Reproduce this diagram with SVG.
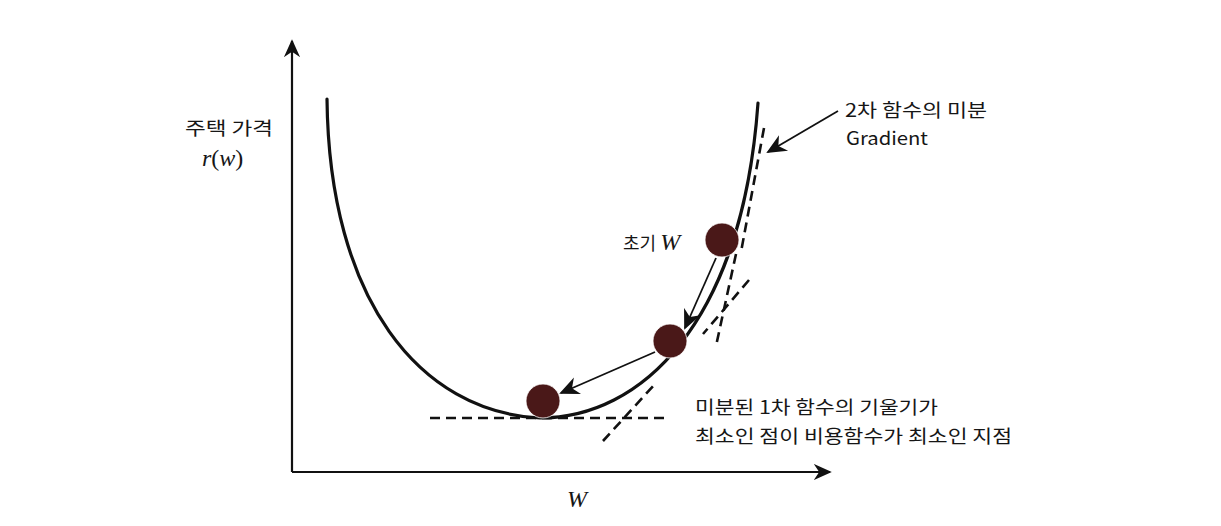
<svg xmlns="http://www.w3.org/2000/svg" width="1221" height="526" viewBox="0 0 1221 526">
<style>
.ax{stroke:#111;stroke-width:2.2;fill:none}
.curve{stroke:#111;stroke-width:3.2;fill:none;stroke-linecap:round}
.dash{stroke:#111;stroke-width:2.6;fill:none;stroke-dasharray:10 6}
.arr{stroke:#111;stroke-width:1.8;fill:none}
.ball{fill:#4a1818;stroke:#fff;stroke-width:0.8}
.ko{font-family:"Noto Sans CJK KR","Noto Sans",sans-serif;font-size:18px;fill:#161616}
.math{font-family:"Liberation Serif","DejaVu Serif",serif;font-style:italic;font-size:24px;fill:#161616}
.mathr{font-family:"Liberation Serif","DejaVu Serif",serif;font-style:normal;font-size:24px;fill:#161616}
</style>
<defs>
<marker id="ahs" viewBox="0 0 10 10" refX="9" refY="5" markerWidth="18" markerHeight="18" markerUnits="userSpaceOnUse" orient="auto">
<path d="M0,0.5 L10,5 L0,9.5 L3,5 Z" fill="#111"/>
</marker>
<marker id="ahb" viewBox="0 0 10 10" refX="9" refY="5" markerWidth="20" markerHeight="20" markerUnits="userSpaceOnUse" orient="auto">
<path d="M0,0.5 L10,5 L0,9.5 L3,5 Z" fill="#111"/>
</marker>
</defs>
<rect width="1221" height="526" fill="#fff"/>
<g id="axes">
<line class="ax" x1="292" y1="472" x2="292" y2="41" marker-end="url(#ahs)"/>
<line class="ax" x1="292" y1="472" x2="830" y2="472" marker-end="url(#ahs)"/>
</g>
<g id="cost-curve">
<path class="curve" d="M327,99 C329,300 420,412 540,418 C640,418 742,325 758,103"/>
</g>
<g id="tangents">
<line class="dash" x1="430" y1="418" x2="665" y2="418"/>
<line class="dash" x1="603" y1="441" x2="655" y2="384"/>
<line class="dash" x1="749" y1="280" x2="703" y2="334"/>
<line class="dash" x1="736" y1="254" x2="716" y2="346"/>
<line class="dash" x1="764" y1="128" x2="741" y2="252"/>
</g>
<g id="balls">
<circle id="ball-init" class="ball" cx="722" cy="240" r="17"/>
<circle id="ball-mid" class="ball" cx="670" cy="341" r="17"/>
<circle id="ball-min" class="ball" cx="543" cy="401" r="17"/>
</g>
<g id="connectors">
<line class="arr" x1="716" y1="258" x2="685" y2="328" marker-end="url(#ahb)"/>
<line class="arr" x1="655" y1="352" x2="561" y2="393" marker-end="url(#ahb)"/>
<line class="arr" x1="838" y1="111" x2="768" y2="152" stroke-width="2.4" marker-end="url(#ahb)"/>
</g>
<g id="labels">
<text class="ko" x="185" y="135" textLength="88" lengthAdjust="spacingAndGlyphs">주택 가격</text>
<text class="math" x="202" y="166">r<tspan class="mathr">(</tspan>w<tspan class="mathr">)</tspan></text>
<text class="ko" x="845" y="117" textLength="142" lengthAdjust="spacingAndGlyphs">2차 함수의 미분</text>
<text class="ko" x="846" y="145" textLength="82" lengthAdjust="spacingAndGlyphs">Gradient</text>
<text class="ko" x="623" y="250">초기 <tspan class="math">W</tspan></text>
<text class="ko" x="695" y="414" textLength="243" lengthAdjust="spacingAndGlyphs">미분된 1차 함수의 기울기가</text>
<text class="ko" x="695" y="443" textLength="317" lengthAdjust="spacingAndGlyphs">최소인 점이 비용함수가 최소인 지점</text>
<text class="math" x="567" y="507">W</text>
</g>
</svg>
